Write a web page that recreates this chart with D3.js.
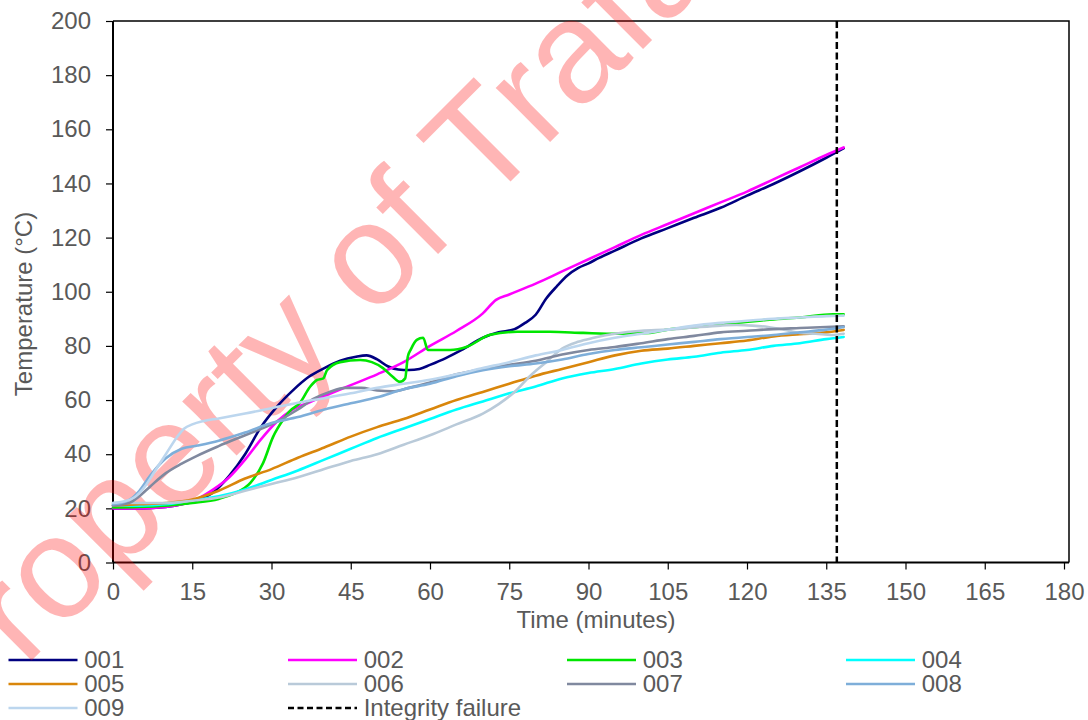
<!DOCTYPE html>
<html>
<head>
<meta charset="utf-8">
<script src="https://cdn.jsdelivr.net/npm/d3@7"></script>
<style>
  html, body { margin: 0; padding: 0; background: #ffffff; }
  svg { display: block; font-family: "Liberation Sans", Arial, sans-serif; }
</style>
</head>
<body>
<svg id="chart" width="1088" height="720"></svg>
<script>
// Furnace test: unexposed-face temperatures per thermocouple (time in minutes, °C)
const xTicks = [0, 15, 30, 45, 60, 75, 90, 105, 120, 135, 150, 165, 180];
const yTicks = [0, 20, 40, 60, 80, 100, 120, 140, 160, 180, 200];
const integrityFailure = 137;

const t001 = [0,5,10,13,16,19,22,25,28,31,34,37,40,43,46,48,50,52,54,56,58,60,63,66,70,73,76,78,80,82,84,86,88,90,92,95,100,105,110,115,120,125,130,135,138.3];
const v001 = [20,20,20.5,21.5,23,26,32,40,50,57.5,63.5,68.5,71.8,74.5,76,76.5,75,72.5,71.3,71.1,71.5,73,75.5,78.5,83,85,86.2,88.5,91.5,97.5,102,106,108.7,110.5,112.5,115.2,119.7,123.5,127.3,131,135.5,139.8,144.5,149.5,153];

const t002 = [0,5,10,13,16,19,22,25,28,31,34,37,40,45,50,55,60,65,70,72.5,75,80,85,90,95,100,105,110,115,120,125,130,135,138.3];
const v002 = [20,20,20.5,21.5,23.5,27,31.5,38,45.5,52,56.5,59,61.5,65.5,69.5,74,80,85.5,92,97,99,103,107.5,112,116.5,121,125,129,133,137,141.5,146,150.5,153.3];

const t003 = [0,5,10,15,20,23,26,28.4,30.3,32.2,33.5,35.4,37.3,38.6,39.8,40.5,43,46.8,49,51.1,53,54.3,55.3,55.8,56.4,57.5,58.7,59.6,63.8,67,71.4,76.5,82.7,89,95.4,101.6,105,111,117,123.7,130,136.3,138.3];
const v003 = [20.3,20.5,21,22,23.5,25.5,29.4,36.7,46.4,52.7,56,59,64.9,67.4,68,71,74,74.8,74,71.8,68.5,66.7,68,76,78.8,82.2,83,78.5,78.5,79.7,84.1,85.2,85.2,84.8,84.5,84.8,86,87.1,88.3,89.6,90.5,91.7,91.7];

const t004 = [0,5,10,15,20,25,30,35,40,45,50,55,60,65,70,75,80,85,90,95,100,105,110,115,120,125,130,135,138.3];
const v004 = [21,21,21.5,23,24.5,27,30.5,34,38,42,46,49.5,53,56.5,59.5,62.5,65,68,70,71.5,73.5,75,76,77.5,78.5,80,81,82.5,83.3];

const t005 = [0,5,10,15,20,25,30,35,40,45,50,55,60,65,70,75,80,85,90,95,100,105,110,115,120,125,130,135,138.3];
const v005 = [21,21.5,22,23.3,26.5,31,34.5,38.7,42.5,46.5,50,53,56.5,60,63,66,69,71.5,74,76.5,78.2,79,80,81,82,83.5,84.3,85,85.9];

const t006 = [0,5,10,15,20,25,30,35,40,45,50,55,60,65,70,73,76,79,82,85,88,91,95,100,105,110,115,118,121,124,127,130,133,136,138.3];
const v006 = [22,22,22,22.8,24,26.5,29,31.5,34.5,37.5,40,43.5,47,51,55,58.5,63,69,74,79,81.5,83,84.5,85.6,86,86.8,87.5,87.7,87.5,87,86,84.8,84.5,84,84.5];

const t007 = [0,3,5,7,10,13,16,20,25,30,35,38,41,44,47,50,53,56,60,65,70,75,80,85,90,95,100,105,110,115,120,125,130,135,138.3];
const v007 = [21,22,24.5,28,33,36.5,39.5,43,47,51,56.5,60.5,63,64.5,64.5,63.5,63.2,64.5,66.5,69.5,71.5,73,74.5,76.8,78.5,79.6,81,82.5,83.7,85,85.6,86.2,86.6,87,87.2];

const t008 = [0,3,5,7,10,13,16,20,25,30,35,40,45,50,55,60,65,70,75,80,85,90,95,100,105,110,115,120,125,130,135,138.3];
const v008 = [21.5,23,26.5,32,38.5,42,43.2,45,48,51.5,53.7,56.5,58.8,61,64,66,68.8,71,72.5,73.5,75,77,78.5,79.5,80.5,81.5,82.5,83.3,84,85,86,87];

const t009 = [0,2,4,6,8,10,12,13.5,15,17,20,25,30,35,40,45,50,55,60,65,70,75,80,85,90,95,100,105,110,115,120,125,130,135,138.3];
const v009 = [22,22.5,24,28,34,40,46,49.5,51,52.2,53.2,55,57,59,60.7,62.5,64.5,66,67.5,69.5,71.8,74,76.5,78.5,81,83,84.5,86,87.5,88.5,89.3,90,90.5,91,91.2];

const seriesNames = ["001","002","003","004","005","006","007","008","009"];
const seriesTimes = [t001,t002,t003,t004,t005,t006,t007,t008,t009];
const seriesValues = [v001,v002,v003,v004,v005,v006,v007,v008,v009];
const seriesColors = ["#000080","#ff00ff","#00e600","#00ffff","#d9860b","#b9cad9","#80899f","#7eaed9","#bcd6ee"];

const svg = d3.select("#chart");
const plotL = 113, plotR = 1064, plotT = 21, plotB = 562.5, frameR = 1069;

const x = d3.scaleLinear().domain([0, 180]).range([plotL, plotR]);
const y = d3.scaleLinear().domain([0, 200]).range([plotB, plotT]);

const textColor = "#595959";
const fontSize = 24;

// plot-area frame (top and right edges)
svg.append("path")
  .attr("d", `M${plotL},${plotT}H${frameR}V${plotB}`)
  .attr("fill", "none").attr("stroke", "#000").attr("stroke-width", 1.5);

// axes
const yAxis = svg.append("g")
  .attr("transform", `translate(${plotL},0)`)
  .call(d3.axisLeft(y).tickValues(yTicks).tickSize(7).tickPadding(15).tickFormat(d3.format("d")));
const xAxis = svg.append("g")
  .attr("transform", `translate(0,${plotB})`)
  .call(d3.axisBottom(x).tickValues(xTicks).tickSize(7).tickPadding(13.5).tickFormat(d3.format("d")));

[yAxis, xAxis].forEach(g => {
  g.select(".domain").attr("stroke", "#000").attr("stroke-width", 2);
  g.selectAll(".tick line").attr("stroke", "#000").attr("stroke-width", 1.2);
  g.selectAll(".tick text")
    .attr("fill", textColor)
    .style("font-size", fontSize + "px")
    .style("font-family", "'Liberation Sans', Arial, sans-serif");
});
yAxis.select(".domain").attr("d", `M0,${plotT}V${plotB}`);
xAxis.select(".domain").attr("d", `M${plotL},0H${frameR}`);

// axis titles
svg.append("text")
  .attr("x", 596).attr("y", 628)
  .attr("text-anchor", "middle")
  .attr("fill", textColor).style("font-size", fontSize + "px")
  .text("Time (minutes)");
svg.append("text")
  .attr("transform", "translate(31.5,304) rotate(-90)")
  .attr("text-anchor", "middle")
  .attr("fill", textColor).style("font-size", fontSize + "px")
  .text("Temperature (°C)");

// legend
const legendCols = [8.5, 288, 567, 846];
const legendRows = [660, 684, 708];
const legendItems = seriesNames.map((n, i) => ({ label: n, color: seriesColors[i], dash: null }));
legendItems.push({ label: "Integrity failure", color: "#000", dash: "6,3.5" });

const legend = svg.append("g");
legendItems.forEach((item, i) => {
  const cx = legendCols[i % 4], cy = legendRows[Math.floor(i / 4)];
  legend.append("line")
    .attr("x1", cx).attr("x2", cx + 69)
    .attr("y1", cy).attr("y2", cy)
    .attr("stroke", item.color)
    .attr("stroke-width", item.dash ? 2.4 : 2.6)
    .attr("stroke-dasharray", item.dash);
  legend.append("text")
    .attr("x", cx + 75.7).attr("y", cy + 8.3)
    .attr("fill", textColor).style("font-size", fontSize + "px")
    .text(item.label);
});

// ownership watermark, sitting under the data lines
svg.append("text")
  .attr("transform", "translate(-44,736) rotate(-45)")
  .attr("fill", "#ff0000").attr("fill-opacity", 0.29)
  .style("font-size", "145px")
  .text("Property of Trafalgar");

// data lines
const line = d3.line()
  .x(d => x(d[0])).y(d => y(d[1]))
  .curve(d3.curveMonotoneX);

const lineG = svg.append("g");
seriesNames.forEach((name, i) => {
  const pts = seriesTimes[i].map((t, j) => [t, seriesValues[i][j]]);
  lineG.append("path")
    .datum(pts)
    .attr("d", line)
    .attr("fill", "none")
    .attr("stroke", seriesColors[i])
    .attr("stroke-width", 2.6)
    .attr("stroke-linejoin", "round")
    .attr("stroke-linecap", "round");
});

// integrity failure marker
svg.append("line")
  .attr("x1", x(integrityFailure)).attr("x2", x(integrityFailure))
  .attr("y1", plotT).attr("y2", plotB)
  .attr("stroke", "#000").attr("stroke-width", 2.5)
  .attr("stroke-dasharray", "7,3.5");
</script>
</body>
</html>
